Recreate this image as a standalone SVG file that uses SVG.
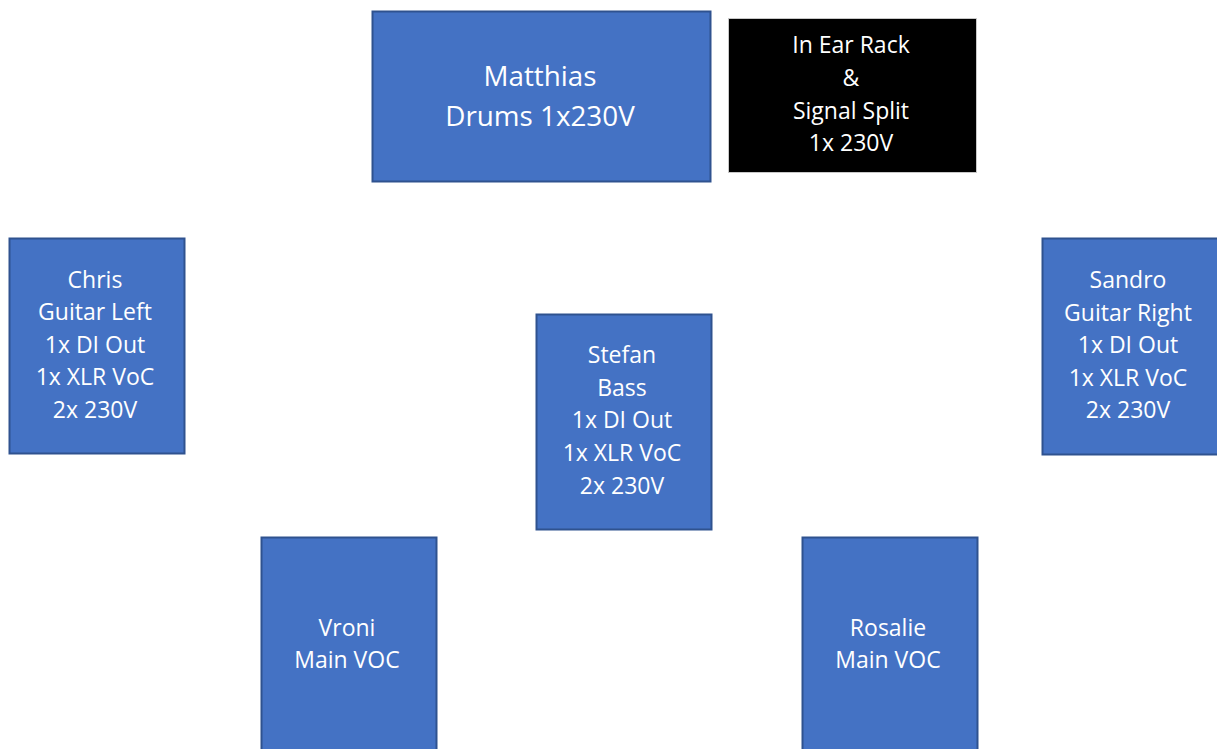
<svg xmlns="http://www.w3.org/2000/svg" width="1217" height="749" viewBox="0 0 1217 749">
<style>
.box{fill:#4472C4;stroke:#2F528F;stroke-width:2}
.blk{fill:#000000;stroke:#c8c8c8;stroke-width:1}
text{font-family:"Open Sans","Liberation Sans",sans-serif;fill:#ffffff;text-anchor:middle}
.s{font-size:23px}
.l{font-size:27.8px}
</style>
<rect width="1217" height="749" fill="#ffffff"/>
<g id="connectors"></g>
<g id="matthias">
<rect class="box" x="372.5" y="11.5" width="338" height="170"/>
<text class="l" x="540" y="86">Matthias</text>
<text class="l" x="540" y="126">Drums 1x230V</text>
</g>
<g id="inear">
<rect class="blk" x="728.5" y="18.5" width="248" height="154"/>
<text class="s" x="851" y="53">In Ear Rack</text>
<text class="s" x="851" y="86">&amp;</text>
<text class="s" x="851" y="119">Signal Split</text>
<text class="s" x="851" y="151">1x 230V</text>
</g>
<g id="chris">
<rect class="box" x="9.5" y="238.5" width="175" height="215"/>
<text class="s" x="95" y="288">Chris</text>
<text class="s" x="95" y="320">Guitar Left</text>
<text class="s" x="95" y="353">1x DI Out</text>
<text class="s" x="95" y="385">1x XLR VoC</text>
<text class="s" x="95" y="418">2x 230V</text>
</g>
<g id="stefan">
<rect class="box" x="536.5" y="314.5" width="175" height="215"/>
<text class="s" x="622" y="363">Stefan</text>
<text class="s" x="622" y="396">Bass</text>
<text class="s" x="622" y="428">1x DI Out</text>
<text class="s" x="622" y="461">1x XLR VoC</text>
<text class="s" x="622" y="494">2x 230V</text>
</g>
<g id="sandro">
<rect class="box" x="1042.5" y="238.5" width="180" height="216"/>
<text class="s" x="1128" y="288">Sandro</text>
<text class="s" x="1128" y="321">Guitar Right</text>
<text class="s" x="1128" y="353">1x DI Out</text>
<text class="s" x="1128" y="386">1x XLR VoC</text>
<text class="s" x="1128" y="418">2x 230V</text>
</g>
<g id="vroni">
<rect class="box" x="261.5" y="537.5" width="175" height="220"/>
<text class="s" x="347" y="636">Vroni</text>
<text class="s" x="347" y="668">Main VOC</text>
</g>
<g id="rosalie">
<rect class="box" x="802.5" y="537.5" width="175" height="220"/>
<text class="s" x="888" y="636">Rosalie</text>
<text class="s" x="888" y="668">Main VOC</text>
</g>
</svg>
